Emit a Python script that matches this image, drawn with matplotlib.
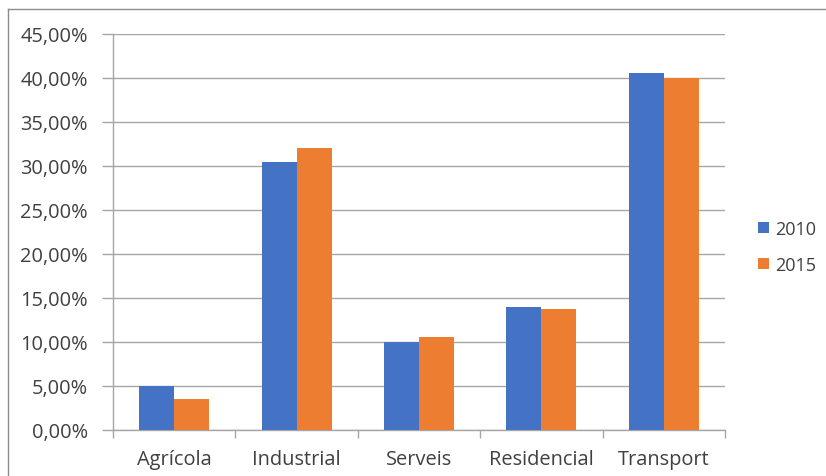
import matplotlib
matplotlib.use("Agg")
from matplotlib import pyplot as plt
from matplotlib.lines import Line2D
from matplotlib.ticker import FuncFormatter
import numpy as np

categories = ["Agrícola", "Industrial", "Serveis", "Residencial", "Transport"]
years = ["2010", "2015"]
values_2010 = [5.0, 30.5, 10.0, 14.0, 40.6]
values_2015 = [3.5, 32.0, 10.6, 13.75, 40.0]

BLUE = "#4472c4"
ORANGE = "#ed7d31"
GRID = "#a6a6a6"
TEXT = "#404040"
FS = 14.4

plt.rcParams['font.family'] = ['Open Sans', 'DejaVu Sans']

fig = plt.figure(figsize=(8.26, 4.77), dpi=100)
ax = fig.add_axes([113/826, 1 - 431/477, (725-113)/826, (431-35)/477])

x = np.arange(len(categories))
w = 0.286
ax.bar(x - w/2, values_2010, w, color=BLUE, label=years[0], zorder=3)
ax.bar(x + w/2, values_2015, w, color=ORANGE, label=years[1], zorder=3)

ax.set_xlim(-0.5, len(categories) - 0.5)
ax.set_ylim(0, 45)
ax.set_yticks(np.arange(0, 46, 5))
ax.yaxis.set_major_formatter(FuncFormatter(lambda v, p: f"{v:.2f}%".replace(".", ",")))
ax.grid(axis="y", color=GRID, linewidth=1, zorder=0)

ax.set_xticks(x)
ax.set_xticklabels(categories)
ax.set_xticks(np.arange(-0.5, len(categories), 1), minor=True)
ax.tick_params(axis="x", which="major", length=0, pad=14, labelsize=FS, labelcolor=TEXT)
ax.tick_params(axis="x", which="minor", length=6, color=GRID, width=1)
ax.tick_params(axis="y", length=8, color=GRID, width=1, pad=10, labelsize=FS, labelcolor=TEXT)

for s in ["top", "right"]:
    ax.spines[s].set_visible(False)
for s in ["left", "bottom"]:
    ax.spines[s].set_color(GRID)
    ax.spines[s].set_linewidth(1)

ax.legend(loc="center left", bbox_to_anchor=(742/826, 1 - 248/477), bbox_transform=fig.transFigure,
          frameon=False, fontsize=13, labelcolor=TEXT, handlelength=0.6, handleheight=0.6,
          handletextpad=0.35, labelspacing=1.0)

# outer border (top and left only, as in the screenshot)
fig.add_artist(Line2D([8/826, 8/826], [0, 1 - 10/477], transform=fig.transFigure, color="#8c8c8c", lw=1))
fig.add_artist(Line2D([8/826, 1], [1 - 10/477, 1 - 10/477], transform=fig.transFigure, color="#8c8c8c", lw=1))

fig.savefig("out.png", dpi=100)
